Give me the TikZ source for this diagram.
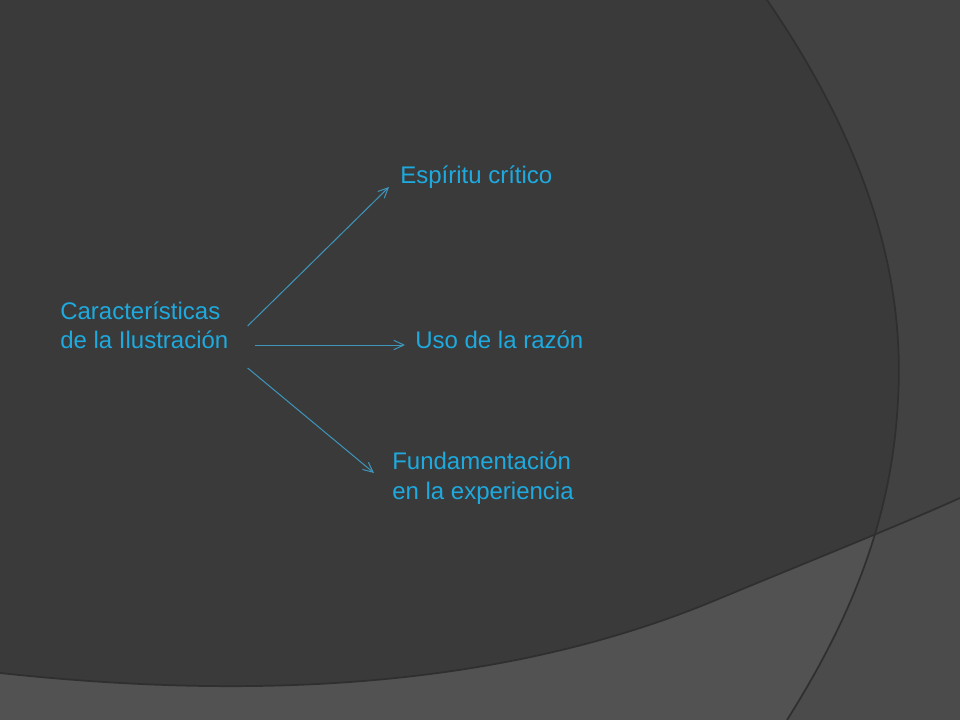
\documentclass[tikz,border=0pt]{standalone}
\usepackage{fontspec}
\setmainfont{Liberation Sans}
\usetikzlibrary{arrows.meta}
\definecolor{slide}{RGB}{58,58,58}
\definecolor{slideright}{RGB}{66,66,66}
\definecolor{band}{RGB}{82,82,82}
\definecolor{bandright}{RGB}{75,75,75}
\definecolor{edge}{RGB}{47,47,47}
\definecolor{accent}{RGB}{30,170,222}
\definecolor{arrowc}{RGB}{62,150,188}
\begin{document}
\begin{tikzpicture}[x=0.75pt, y=-0.75pt,
        txt/.style={text=accent, font=\fontsize{18}{22}\selectfont, align=left, inner sep=0pt, anchor=base west},
        arr/.style={draw=arrowc, line width=0.75pt, -{Straight Barb[length=7.5pt, width=7pt]}}]
            % background of the slide
            \useasboundingbox (0, 0) rectangle (960, 720);
            \fill[slide] (0, 0) rectangle (960, 720);
            \fill[slideright] (767, 0) .. controls (870, 150) and (905, 280) .. (898, 400) .. controls (892, 520) and (850, 620) .. (787, 720) -- (960, 720) -- (960, 0) -- cycle;
            \fill[band] (0, 673) .. controls (250, 700) and (500, 690) .. (716, 600) .. controls (810, 561) and (900, 525) .. (960, 498) -- (960, 720) -- (0, 720) -- cycle;
            \begin{scope}
                \clip (767, 0) .. controls (870, 150) and (905, 280) .. (898, 400) .. controls (892, 520) and (850, 620) .. (787, 720) -- (960, 720) -- (960, 0) -- cycle;
                \fill[bandright] (0, 673) .. controls (250, 700) and (500, 690) .. (716, 600) .. controls (810, 561) and (900, 525) .. (960, 498) -- (960, 720) -- (0, 720) -- cycle;
            \end{scope}
            \draw[edge, line width=1.3pt] (767, 0) .. controls (870, 150) and (905, 280) .. (898, 400) .. controls (892, 520) and (850, 620) .. (787, 720);
            \draw[edge, line width=1.3pt] (0, 673) .. controls (250, 700) and (500, 690) .. (716, 600) .. controls (810, 561) and (900, 525) .. (960, 498);
            % texts
            \node[txt] (car) at (60, 349) {Características\\de la Ilustración};
            \node[txt] (esp) at (400, 184) {Espíritu crítico};
            \node[txt] (uso) at (415, 349) {Uso de la razón};
            \node[txt] (fun) at (392, 499) {Fundamentación\\en la experiencia};
            % arrows
            \draw[arr] ([shift={(19, -23)}]car.base east) -- ([shift={(-11, 3)}]esp.base west);
            \draw[arr] ([shift={(26, -4)}]car.base east) -- ([shift={(-10, -4)}]uso.base west);
            \draw[arr] ([shift={(19, 19)}]car.base east) -- ([shift={(-18, -26)}]fun.base west);
        \end{tikzpicture}
\end{document}
